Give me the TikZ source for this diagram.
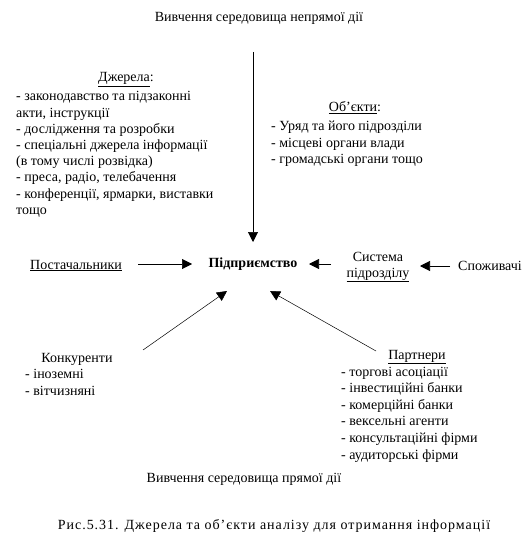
\documentclass[tikz,border=0pt]{standalone}
\usepackage{fontspec}
\setmainfont{Liberation Serif}
\newfontfamily\capfont[LetterSpace=7]{Liberation Serif}
\usetikzlibrary{arrows.meta}
\begin{document}
\begin{tikzpicture}[x=1pt,y=-1pt,
  txt/.style={inner sep=0pt,font=\fontsize{14}{16.5}\selectfont},
  lst/.style={txt,anchor=base west},
  arr/.style={line width=0.6pt,-{Triangle[length=10pt,width=10pt]}},
  thin/.style={line width=0.5pt,-{Triangle[length=10pt,width=10pt]}}]
\useasboundingbox (0,0) rectangle (530,545);
% top
\node[txt,anchor=base] (top) at (259,22) {Вивчення середовища непрямої дії};
\coordinate (vtop) at (253,52);
\coordinate (vend) at (253,242);
% sources
\node[txt,anchor=base] (srch) at (126,82) {\underline{Джерела}:};
\foreach \t [count=\i from 0] in {- законодавство та підзаконні,{акти, інструкції},- дослідження та розробки,- спеціальні джерела інформації,(в тому числі розвідка),{- преса, радіо, телебачення},{- конференції, ярмарки, виставки},тощо}
  \node[lst] (src\i) at (16,101+16.2*\i) {\t};
% objects
\node[txt,anchor=base] (objh) at (355,112) {\underline{Об’єкти}:};
\foreach \t [count=\i from 0] in {- Уряд та його підрозділи,- місцеві органи влади,- громадські органи тощо}
  \node[lst] (obj\i) at (271,131+16.5*\i) {\t};
% centre row
\node[txt,anchor=base,font=\fontsize{14}{16.5}\selectfont\bfseries] (firm) at (253,267) {Підприємство};
\node[txt,anchor=base] (sup) at (76,269) {\underline{Постачальники}};
\node[txt,anchor=base] (sys1) at (378,261) {Система};
\node[txt,anchor=base] (sys2) at (378,277) {\underline{підрозділу}};
\node[txt,anchor=base] (cons) at (490,270) {Споживачі};
\coordinate (a1s) at (138,264);
\coordinate (a1e) at (192,264);
\coordinate (a2s) at (331,264);
\coordinate (a2e) at (309,264);
\coordinate (a3s) at (450,266);
\coordinate (a3e) at (420,266);
\draw[arr] (vtop) -- (vend);
\draw[arr] (a1s) -- (a1e);
\draw[arr] (a2s) -- (a2e);
\draw[arr] (a3s) -- (a3e);
% diagonals
\coordinate (d1s) at (143,350);
\coordinate (d1e) at (227,291);
\coordinate (d2s) at (376,351);
\coordinate (d2e) at (270,291);
\draw[thin] (d1s) -- (d1e);
\draw[thin] (d2s) -- (d2e);
% competitors
\node[txt,anchor=base] (comp) at (77,362) {Конкуренти};
\foreach \t [count=\i from 0] in {- іноземні,- вітчизняні}
  \node[lst] (comp\i) at (25,378+17*\i) {\t};
% partners
\node[txt,anchor=base] (part) at (417,359) {\underline{Партнери}};
\foreach \t [count=\i from 0] in {- торгові асоціації,- інвестиційні банки,- комерційні банки,- вексельні агенти,- консультаційні фірми,- аудиторські фірми}
  \node[lst] (part\i) at (341,376+16.6*\i) {\t};
% bottom
\node[txt,anchor=base] (bot) at (244,482) {Вивчення середовища прямої дії};
\node[txt,anchor=base,font=\fontsize{14}{16.5}\capfont] (cap) at (274,529) {Рис.5.31. Джерела та об’єкти аналізу для отримання інформації};
\end{tikzpicture}
\end{document}
